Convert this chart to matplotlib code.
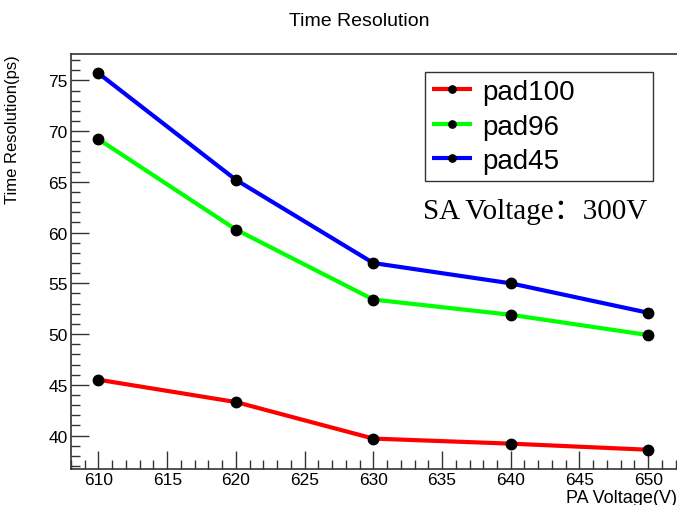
import matplotlib
matplotlib.use("Agg")
import matplotlib.pyplot as plt
from matplotlib.ticker import MultipleLocator

# PA voltage scan at fixed SA voltage
pa_voltage = [610, 620, 630, 640, 650]
res_pad100 = [45.5, 43.3, 39.7, 39.2, 38.6]
res_pad96 = [69.2, 60.3, 53.4, 51.9, 49.9]
res_pad45 = [75.7, 65.2, 57.0, 55.0, 52.1]

series = [
    ("pad100", res_pad100, "#ff0000"),
    ("pad96", res_pad96, "#00ff00"),
    ("pad45", res_pad45, "#0000ff"),
]

plt.rcParams['font.family'] = ['Liberation Sans', 'DejaVu Sans']

fig = plt.figure(figsize=(6.77, 5.06), dpi=100)
ax = fig.add_axes([0.1049, 0.0711, 1.0 - 0.1049, 0.8913 - 0.0711])

for name, vals, col in series:
    ax.plot(pa_voltage, vals, '-', color=col, lw=3, marker='o', ms=7.5,
            mfc='black', mec='black', label=name, solid_capstyle='butt')

ax.set_xlim(608.0, 652.1)
ax.set_ylim(36.7, 77.6)

ax.xaxis.set_major_locator(MultipleLocator(5))
ax.xaxis.set_minor_locator(MultipleLocator(1))
ax.yaxis.set_major_locator(MultipleLocator(5))
ax.yaxis.set_minor_locator(MultipleLocator(1))
ax.tick_params(which='both', direction='in', width=1, color='#333333',
               labelsize=12.5, pad=2.5)
ax.tick_params(which='major', length=13)
ax.tick_params(which='minor', length=6.5)

for side in ['left', 'bottom', 'top']:
    ax.spines[side].set_linewidth(1.2)
    ax.spines[side].set_color('#333333')
ax.spines['right'].set_visible(False)

ax.set_ylabel("Time Resolution(ps)", fontsize=12)
ax.yaxis.set_label_coords(-0.085, 1.0)
ax.yaxis.label.set_horizontalalignment('right')

fig.text(1.0, 1 - 490 / 506, "PA Voltage(V)", fontsize=13, ha='right', va='top')
fig.text(0.53, 0.958, "Time Resolution", fontsize=14, ha='center', va='center')

# legend box spanning a fixed region of the figure
lx0, lx1 = 425 / 677, 653 / 677
ly1 = 1 - 73 / 506
leg = ax.legend(loc='upper left', bbox_to_anchor=(lx0, ly1 - 0.2, lx1 - lx0, 0.2),
                bbox_transform=fig.transFigure, mode='expand', fontsize=20,
                numpoints=1, markerscale=0.7, handlelength=1.45,
                handletextpad=0.35, borderpad=0.25, labelspacing=0.31,
                borderaxespad=0, fancybox=False, framealpha=1,
                edgecolor='#333333')
leg.get_frame().set_linewidth(1.0)

fig.text(423 / 677, 1 - 212 / 506, "SA Voltage：300V", fontsize=21,
         family=['Liberation Serif', 'Noto Sans CJK SC'], ha='left', va='center')

fig.savefig("out.png", dpi=100)
